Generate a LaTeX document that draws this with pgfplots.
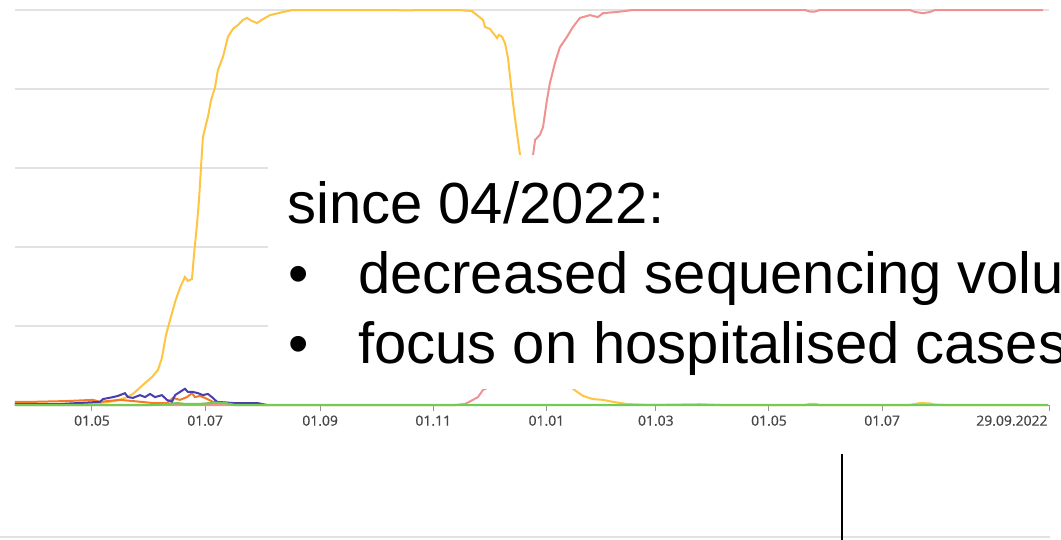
\documentclass[border=0pt]{standalone}
\usepackage{fontspec}
\setmainfont{Liberation Sans}
\newfontfamily\tickfont[FakeBold=0.6]{Open Sans}
\usepackage{pgfplots}
\pgfplotsset{compat=1.18}

\definecolor{cYellow}{RGB}{255,197,66}
\definecolor{cRed}{RGB}{241,145,145}
\definecolor{cBlue}{RGB}{72,62,172}
\definecolor{cOrange}{RGB}{245,122,40}
\definecolor{cGreen}{RGB}{112,204,82}
\definecolor{gridgrey}{RGB}{226,226,226}
\definecolor{tickgrey}{RGB}{150,150,150}
\definecolor{labgrey}{RGB}{70,70,70}

\begin{document}
\begin{tikzpicture}
\path[use as bounding box] (0,0) rectangle (1061bp,-540bp);
\clip (0,0) rectangle (1061bp,-540bp);
\begin{axis}[
    at={(15bp,-405bp)}, anchor=south west,
    scale only axis,
    width=1034bp, height=395bp,
    xmin=-41.5, xmax=516,
    ymin=0, ymax=100,
    clip=false,
    axis x line*=bottom, axis y line*=left,
    x axis line style={draw=tickgrey, line width=1bp},
    y axis line style={draw=none},
    ytick={0,20,...,100}, yticklabels={},
    ytick style={draw=none},
    ymajorgrids,
    grid style={gridgrey, line width=1.2bp},
    xtick={0,61,123,184,245,304,365,426},
    xticklabels={01.05,01.07,01.09,01.11,01.01,01.03,01.05,01.07},
    extra x ticks={516},
    extra x tick labels={29.09.2022},
    extra x tick style={xticklabel style={anchor=north east, xshift=2bp}},
    tick align=outside,
    major tick length=6bp,
    xtick style={draw=tickgrey, line width=1bp},
    xticklabel style={font=\tickfont\fontsize{14}{14}\selectfont, text=labgrey, yshift=-1bp},
  ]
  % red
  \addplot[cRed, line width=2bp] coordinates {
    (-41.5,0) (195.7,0) (201.1,0.25) (205.4,1.3) (208.1,2.0) (210.8,3.8) (213.0,4.3)
    (220,12) (228,30) (233,48) (237.8,63.3) (238.9,67.1) (241.5,68.4) (243.2,70.4)
    (245.3,77.2) (246.9,81.5) (249.6,86.6) (252.3,90.6) (256.1,93.2) (259.3,95.7)
    (263.1,98.0) (268.5,98.7) (272.8,98.2) (275.5,99.2) (283.1,99.5) (291.7,100)
    (384.4,100) (387.1,99.6) (389.8,99.6) (392.5,100) (441.0,100) (443.7,99.5)
    (448.1,99.2) (451.8,99.5) (454.5,100) (512.7,100)
  };
  % yellow
  \addplot[cYellow, line width=2bp] coordinates {
    (-41.5,0.25) (-17.3,0.25) (4.3,0.5) (12.4,1.0) (17.8,1.8) (22.1,2.8) (27.5,5.1)
    (32.4,7.1) (35.6,8.9) (37.7,11.9) (39.9,17.7) (42.1,21.5) (44.8,26.1) (47.4,29.6)
    (50.1,32.4) (51.8,31.4) (53.9,31.9) (55.0,38.0) (56.6,45.6) (57.7,51.9) (58.8,60.3)
    (59.8,67.8) (61.5,71.1) (62.5,72.9) (64.2,77.2) (66.3,80.3) (67.9,84.8) (70.6,88.1)
    (73.3,93.2) (76.0,95.2) (78.7,96.2) (81.4,97.5) (83.6,98.0) (86.3,97.2) (89.0,96.7)
    (92.2,97.7) (96.0,98.7) (103.0,99.5) (108.4,100) (155.3,100) (171.5,99.9) (176.8,100)
    (198.4,100) (204.9,99.7) (207.6,98.7) (210.8,97.5) (211.9,95.7) (214.6,95.2)
    (216.2,94.2) (218.4,92.9) (219.4,93.7) (221.1,93.2) (222.7,91.6) (224.3,87.8)
    (225.9,81.0) (227.0,76.5) (229.1,68.9) (230.8,63.3) (236.2,39.2) (244.2,19.0)
    (252.3,7.6) (259.3,4.1) (264.7,2.3) (270.1,1.5) (275.5,1.3) (280.9,0.8) (288.5,0.25)
    (300.9,0) (327.8,0.2) (338.6,0) (384.4,0) (387.1,0.3) (389.8,0.3) (392.5,0)
    (441.0,0) (446.4,0.5) (451.8,0.4) (454.5,0.1) (460,0) (515.4,0)
  };
  % orange
  \addplot[cOrange, line width=2bp] coordinates {
    (-41.5,0.8) (-31.8,0.8) (-13.5,1.0) (0.5,1.3) (4.3,0.8) (15.1,1.3) (22.1,1.0)
    (32.9,0.5) (40.4,0.5) (43.7,1.8) (47.4,1.3) (51.2,2.0) (53.9,3.0) (55.5,2.0)
    (58.2,2.3) (60.9,1.8) (65.2,0.8) (74.4,0.5) (76.0,0.25) (80,0)
  };
  % blue
  \addplot[cBlue, line width=2bp] coordinates {
    (-41.5,0.25) (-17.3,0.25) (4.3,0.8) (5.9,1.5) (11.3,2.0) (14.0,2.3) (17.8,3.0)
    (19.4,2.0) (22.1,1.8) (25.9,2.5) (28.6,2.0) (31.3,2.8) (34.0,2.0) (37.7,2.5)
    (40.4,1.3) (43.1,0.8) (44.8,2.5) (47.4,3.3) (50.1,4.1) (51.8,3.3) (54.5,3.3)
    (57.2,3.0) (59.8,2.5) (62.5,2.8) (65.2,1.8) (67.4,0.8) (76.0,0.5) (89.0,0.5) (94.4,0)
  };
  % green
  \addplot[cGreen, line width=2.2bp] coordinates {
    (-41.5,0) (31.3,0) (42.1,0.25) (45.8,0.5) (50.1,0.25) (58.2,0.25) (66.3,0.6)
    (71.7,0.5) (77.1,0) (515.4,0)
  };
\end{axis}
\fill[white] (268bp,-155bp) rectangle (1061bp,-389bp);
\begin{scope}[every node/.style={anchor=base west, inner sep=0pt,
    font=\fontsize{58.2}{70}\selectfont}]
  \node at (287bp,-223bp) {since 04/2022:};
  \node at (288bp,-293bp) {•};
  \node at (358bp,-293bp) {decreased sequencing volume};
  \node at (288bp,-363bp) {•};
  \node at (358bp,-363bp) {focus on hospitalised cases};
\end{scope}
\draw[gridgrey, line width=1.5bp] (0,-537bp) -- (1050bp,-537bp);
\draw[black, line width=2bp] (842bp,-454bp) -- (842bp,-540bp);
\end{tikzpicture}
\end{document}
